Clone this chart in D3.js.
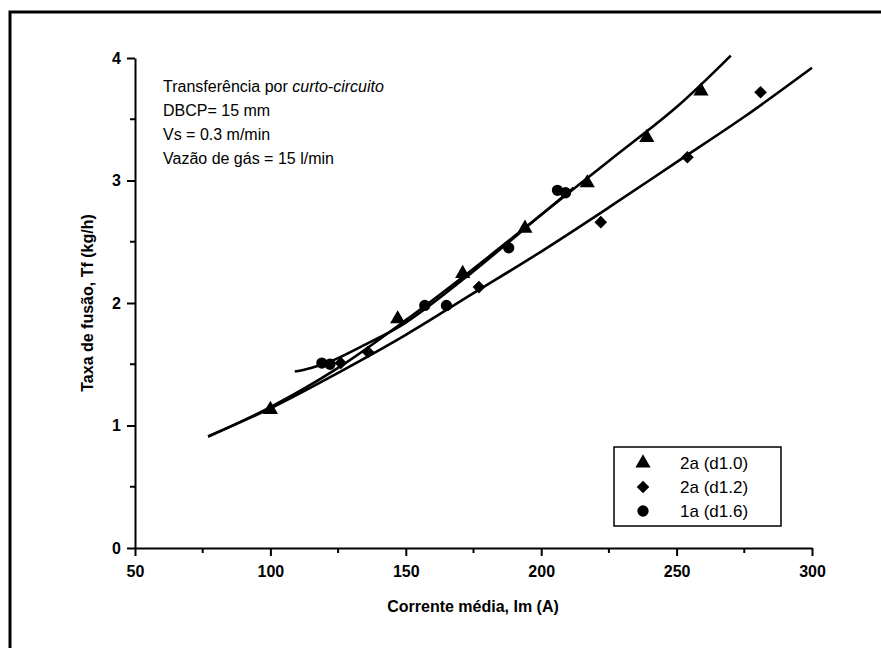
<!DOCTYPE html>
<meta charset="utf-8">
<style>
	body { margin: 0; background: #fff; }
	text { font-family: Arial, "Liberation Sans", sans-serif; fill: #000; }
	.tick text { font-size: 16px; font-weight: bold; }
	.axis path, .axis line { stroke: #000; stroke-width: 2px; }
	.fit { fill: none; stroke: #000; stroke-width: 2.6px; }
</style>
<svg width="881" height="648"></svg>
<script src="https://d3js.org/d3.v7.min.js"></script>
<script>

	// measured points, Im (A) vs Tf (kg/h)
	var tri_I = [100, 147, 171, 194, 217, 239, 259];
	var tri_T = [1.13, 1.87, 2.24, 2.61, 2.98, 3.35, 3.73];
	var dia_I = [126, 136, 177, 222, 254, 281];
	var dia_T = [1.51, 1.60, 2.13, 2.66, 3.19, 3.72];
	var cir_I = [119, 122, 157, 165, 188, 206, 209];
	var cir_T = [1.51, 1.50, 1.98, 1.98, 2.45, 2.92, 2.90];

	// fitted curves
	var fitTri_I = [77, 100, 125, 150, 175, 200, 225, 250, 270];
	var fitTri_T = [0.91, 1.15, 1.47, 1.86, 2.28, 2.72, 3.16, 3.60, 4.02];
	var fitDia_I = [77, 100, 125, 150, 175, 200, 225, 250, 275, 300];
	var fitDia_T = [0.91, 1.14, 1.43, 1.74, 2.08, 2.42, 2.78, 3.15, 3.52, 3.92];
	var fitCir_I = [109, 115, 122, 135, 150, 175, 200, 212];
	var fitCir_T = [1.44, 1.47, 1.52, 1.66, 1.84, 2.26, 2.72, 2.94];

	var xTicks = [50, 100, 150, 200, 250, 300];
	var yTicks = [0, 1, 2, 3, 4];
	var legendLabels = ["2a (d1.0)", "2a (d1.2)", "1a (d1.6)"];
	var noteLines = ["DBCP= 15 mm", "Vs = 0.3 m/min", "Vazão de gás = 15 l/min"];

	var svg = d3.select("svg");

	var x = d3.scaleLinear().domain([50, 300]).range([135, 812]);
	var y = d3.scaleLinear().domain([0, 4]).range([548, 58]);

	// outer frame (top and left only)
	svg.append("path")
		.attr("d", "M10,648 V12 H881")
		.attr("fill", "none")
		.attr("stroke", "#000")
		.attr("stroke-width", 3);

	// axes with minor ticks
	var xMinor = d3.range(75, 300, 50);
	var yMinor = d3.range(0.5, 4, 1);

	var gx = svg.append("g").attr("class", "axis")
		.attr("transform", "translate(0," + y(0) + ")")
		.call(d3.axisBottom(x).tickValues(xTicks).tickFormat(d3.format("d"))
			.tickSize(8).tickSizeOuter(0).tickPadding(10));
	gx.selectAll(".minor").data(xMinor).enter().append("line")
		.attr("x1", function (d) { return x(d); }).attr("x2", function (d) { return x(d); })
		.attr("y1", 0).attr("y2", 5);

	var gy = svg.append("g").attr("class", "axis")
		.attr("transform", "translate(" + x(50) + ",0)")
		.call(d3.axisLeft(y).tickValues(yTicks).tickFormat(d3.format("d"))
			.tickSize(8).tickSizeOuter(0).tickPadding(6));
	gy.selectAll(".minor").data(yMinor).enter().append("line")
		.attr("y1", function (d) { return y(d); }).attr("y2", function (d) { return y(d); })
		.attr("x1", 0).attr("x2", -5);

	svg.append("text")
		.attr("x", 473).attr("y", 612)
		.attr("text-anchor", "middle")
		.style("font-size", "16px").style("font-weight", "bold")
		.text("Corrente média, Im (A)");

	svg.append("text")
		.attr("transform", "translate(93,303) rotate(-90)")
		.attr("text-anchor", "middle")
		.style("font-size", "16px").style("font-weight", "bold")
		.text("Taxa de fusão, Tf (kg/h)");

	// fit lines
	var line = d3.line()
		.x(function (d) { return x(d[0]); })
		.y(function (d) { return y(d[1]); })
		.curve(d3.curveCatmullRom);

	[[fitDia_I, fitDia_T], [fitTri_I, fitTri_T], [fitCir_I, fitCir_T]].forEach(function (f) {
		svg.append("path").attr("class", "fit")
			.attr("d", line(d3.zip(f[0], f[1])));
	});

	// markers: triangle, diamond (rotated square), circle
	var shapes = [d3.symbolTriangle, d3.symbolSquare, d3.symbolCircle];
	var sizes = [100, 80, 100];
	var rot = [0, 45, 0];
	var sets = [[tri_I, tri_T], [dia_I, dia_T], [cir_I, cir_T]];

	sets.forEach(function (s, i) {
		svg.append("g").selectAll("path")
			.data(d3.zip(s[0], s[1]))
			.enter().append("path")
			.attr("d", d3.symbol().type(shapes[i]).size(sizes[i]))
			.attr("transform", function (d) {
				return "translate(" + x(d[0]) + "," + y(d[1]) + ") rotate(" + rot[i] + ")";
			})
			.attr("fill", "#000");
	});

	// annotation
	var note = svg.append("text").attr("x", 163).attr("y", 92).style("font-size", "16px");
	note.append("tspan").text("Transferência por ");
	note.append("tspan").style("font-style", "italic").text("curto-circuito");
	noteLines.forEach(function (t, i) {
		svg.append("text")
			.attr("x", 163).attr("y", 116 + i * 24)
			.style("font-size", "16px")
			.text(t);
	});

	// legend
	var lg = svg.append("g").attr("transform", "translate(614,447)");
	lg.append("rect")
		.attr("width", 167).attr("height", 79)
		.attr("fill", "#fff").attr("stroke", "#000").attr("stroke-width", 1.5);
	legendLabels.forEach(function (t, i) {
		var row = lg.append("g").attr("transform", "translate(0," + (16 + i * 24) + ")");
		row.append("path")
			.attr("d", d3.symbol().type(shapes[i]).size(sizes[i]))
			.attr("transform", "translate(29,0) rotate(" + rot[i] + ")")
			.attr("fill", "#000");
		row.append("text")
			.attr("x", 66).attr("dy", "0.35em")
			.style("font-size", "17px")
			.text(t);
	});

</script>
